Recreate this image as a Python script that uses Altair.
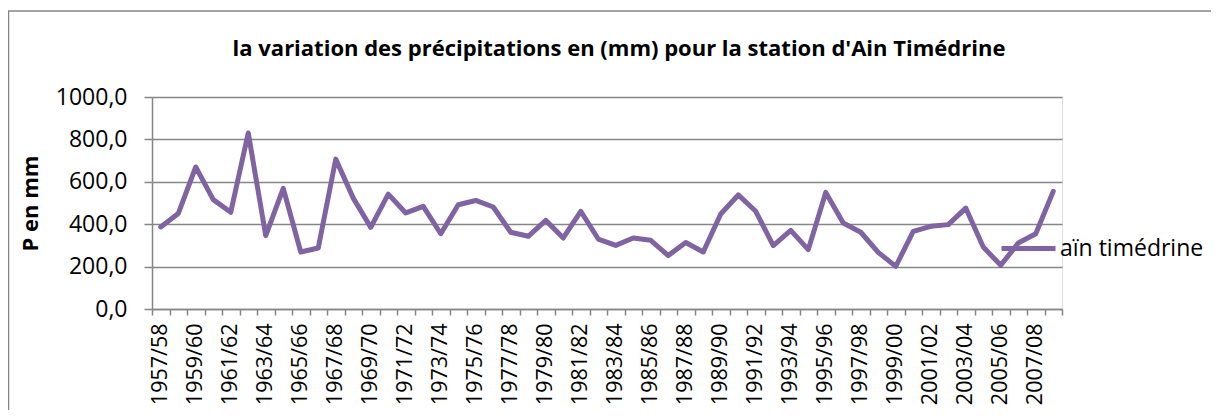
import altair as alt
import pandas as pd

start_years = list(range(1957, 2009))
seasons = [f"{y}/{(y + 1) % 100:02d}" for y in start_years]
precip = [387, 450, 670, 516, 456, 830, 346, 569, 269, 288,
          707, 523, 385, 542, 453, 484, 355, 492, 512, 481,
          362, 343, 418, 335, 461, 330, 300, 335, 324, 252,
          314, 269, 448, 538, 461, 299, 371, 280, 550, 406,
          362, 267, 201, 366, 390, 398, 476, 292, 206, 311,
          355, 555]
series_name = "aïn timédrine"
y_ticks = [0, 200, 400, 600, 800, 1000]
title_text = "la variation des précipitations en (mm) pour la station d'Ain Timédrine"

df = pd.DataFrame({"season": seasons, "P": precip, "serie": series_name})

GRAY = "#868686"
PURPLE = "#7F63A2"
FONT = "Open Sans"

line = alt.Chart(df).mark_line(
    color=PURPLE, strokeWidth=5, strokeJoin="round", strokeCap="round"
).encode(
    x=alt.X(
        "season:O",
        sort=seasons,
        bandPosition=0.5,
        scale=alt.Scale(type="band", paddingInner=0, paddingOuter=0),
        axis=alt.Axis(
            title=None,
            labelAngle=270,
            labelAlign="right",
            labelBaseline="middle",
            labelFont=FONT,
            labelFontSize=21.5,
            labelColor="#000000",
            labelPadding=8,
            labelOverlap=False,
            labelExpr="toNumber(substring(datum.label,0,4)) % 2 == 1 ? datum.label : ''",
            tickBand="extent",
            tickSize=6,
            tickColor=GRAY,
            tickWidth=1.5,
            domainColor=GRAY,
            domainWidth=1.5,
            grid=False,
        ),
    ),
    y=alt.Y(
        "P:Q",
        scale=alt.Scale(domain=[0, 1000], nice=False),
        axis=alt.Axis(
            title="P en mm",
            titleFont=FONT,
            titleFontSize=22,
            titleFontWeight="bold",
            titleColor="#000000",
            titleAngle=270,
            titleX=-122,
            titleY=106,
            titleAlign="center",
            titleBaseline="middle",
            values=y_ticks,
            labelExpr="replace(format(datum.value, '.1f'), '.', ',')",
            labelFont=FONT,
            labelFontSize=23,
            labelColor="#000000",
            labelPadding=17,
            tickSize=8,
            tickColor=GRAY,
            tickWidth=1.5,
            domainColor=GRAY,
            domainWidth=1.5,
            grid=True,
            gridColor=GRAY,
            gridWidth=1.5,
        ),
    ),
    color=alt.Color(
        "serie:N",
        scale=alt.Scale(range=[PURPLE]),
        legend=alt.Legend(
            title=None,
            orient="none",
            legendX=847,
            legendY=122,
            symbolType="stroke",
            symbolSize=2916,
            symbolStrokeWidth=5,
            labelFont=FONT,
            labelFontSize=23,
            labelColor="#000000",
            labelOffset=2,
        ),
    ),
)

border = alt.Chart(alt.Data(values=[{}])).mark_rect(
    fill=None, stroke=GRAY, strokeWidth=1.5
).encode(
    x=alt.value(-143.5), x2=alt.value(1300),
    y=alt.value(-86), y2=alt.value(400),
)

title = alt.Chart(alt.Data(values=[{"t": title_text}])).mark_text(
    font=FONT, fontSize=22, fontWeight="bold", color="#000000",
    align="center", baseline="alphabetic",
).encode(
    text="t:N",
    x=alt.value(467),
    y=alt.value(-41),
)

chart = alt.layer(border, title, line).properties(
    width=910,
    height=212,
    autosize=alt.AutoSizeParams(type="none"),
    padding={"left": 144, "top": 89, "right": 149, "bottom": 101},
).configure_view(stroke=None).configure(background="white")

chart.save("out.html", embed_options={"renderer": "svg", "actions": False})
